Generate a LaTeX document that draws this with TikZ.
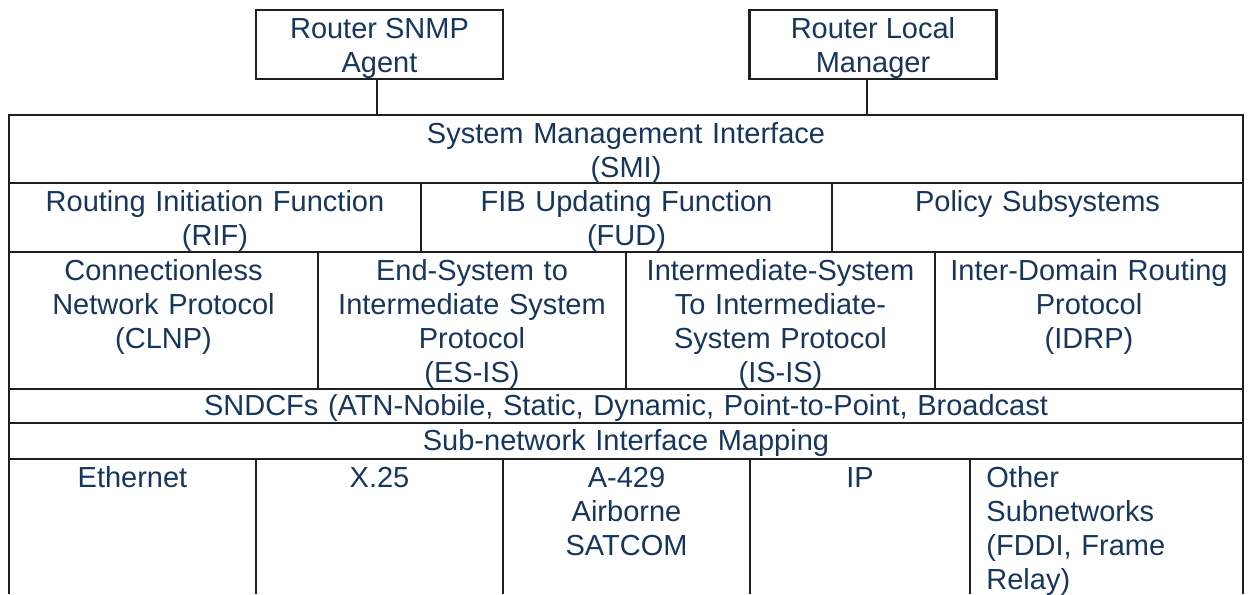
\documentclass[tikz,border=0pt]{standalone}
\usepackage{fontspec}
\setmainfont{Liberation Sans}
\usepackage{tikz}
\definecolor{atnblue}{RGB}{23, 54, 93}

\begin{document}
\begin{tikzpicture}[x=.5pt, y=-.5pt,
    grid/.style={line width=1.2pt, black!88},
    layer/.style={anchor=north, align=center, text=atnblue, inner sep=0pt,
      text width=#1, font=\fontsize{14.5}{17}\selectfont,
      execute at begin node=\strut},
    layer/.default=150pt,
    agentbox/.style={draw=black!88, line width=1.2pt, minimum width=123.5pt,
      minimum height=34.5pt, inner sep=0pt, align=center, text=atnblue,
      text height=28pt, text depth=.5pt,
      font=\fontsize{14.5}{17}\selectfont}]
        \useasboundingbox (0,0) rectangle (1251,594);
        % managers on top
        \node [agentbox] (snmp) at (379.5,44.5) {Router SNMP\\Agent};
        \node [agentbox] (lm) at (873,44.5) {Router Local\\Manager};
        \coordinate (snmpdrop) at (377,115);
        \coordinate (lmdrop) at (867,115);
        \draw [grid] (snmp.south -| snmpdrop) -- (snmpdrop);
        \draw [grid] (lm.south -| lmdrop) -- (lmdrop);
        % the stack, open at the bottom
        \draw [grid] (9,594) -- (9,115) -- (1243,115) -- (1243,594);
        \foreach \y in {183,252,389,423,459}
          \draw [grid] (9,\y) -- (1243,\y);
        \foreach \x in {421,832}
          \draw [grid] (\x,183) -- (\x,252);
        \foreach \x in {318,626,935}
          \draw [grid] (\x,252) -- (\x,389);
        \foreach \x in {256,503,750,970}
          \draw [grid] (\x,459) -- (\x,594);
        % layers
        \node [layer=600pt] (smi) at (626,119) {System Management Interface\\(SMI)};
        \node [layer=200pt] (rif) at (215,187) {Routing Initiation Function\\(RIF)};
        \node [layer=200pt] (fud) at (626.5,187) {FIB Updating Function\\(FUD)};
        \node [layer=200pt] (policy) at (1037.5,187) {Policy Subsystems};
        \node [layer] (clnp) at (163.5,256) {Connectionless\\Network Protocol\\(CLNP)};
        \node [layer] (esis) at (472,256) {End-System to\\Intermediate System\\Protocol\\(ES-IS)};
        \node [layer] (isis) at (780.5,256) {Intermediate-System\\To Intermediate-\\System Protocol\\(IS-IS)};
        \node [layer] (idrp) at (1089,256) {Inter-Domain Routing\\Protocol\\(IDRP)};
        \node [layer=600pt] (sndcf) at (626,391) {SNDCFs (ATN-Nobile, Static, Dynamic, Point-to-Point, Broadcast};
        \node [layer=600pt] (snim) at (626,426) {Sub-network Interface Mapping};
        % subnetworks
        \node [layer=120pt] (ether) at (132.5,463) {Ethernet};
        \node [layer=120pt] (xtwofive) at (379.5,463) {X.25};
        \node [layer=120pt] (arinc) at (626.5,463) {A-429\\Airborne\\SATCOM};
        \node [layer=120pt] (ip) at (860,463) {IP};
        \node [layer=125pt, anchor=north west, align=left] (other) at (986,463) {Other\\Subnetworks\\(FDDI, Frame\\Relay)};
      \end{tikzpicture}
\end{document}
